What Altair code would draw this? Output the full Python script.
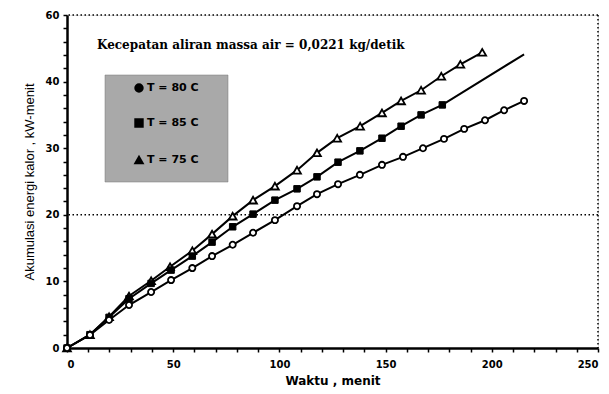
import altair as alt
import pandas as pd

# ---- data ----
tri_t = [0, 10.8, 19.8, 29.2, 39.6, 48.5, 59, 68.3, 78, 87.6, 97.9, 108.3, 117.7, 127.2, 138, 148.3, 157.3, 166.7, 176.2, 185.2, 195.5]
tri_q = [0, 2.0, 4.7, 7.8, 10.1, 12.2, 14.6, 17.1, 19.8, 22.2, 24.3, 26.7, 29.3, 31.5, 33.3, 35.3, 37.1, 38.7, 40.8, 42.6, 44.4]

sq_t = [0, 10.8, 19.8, 29.2, 39.6, 49, 59, 68.3, 78, 87.6, 97.9, 108.3, 117.7, 127.6, 137.9, 148.3, 157.3, 166.7, 176.7]
sq_q = [0, 2.0, 4.6, 7.4, 9.7, 11.7, 13.8, 15.9, 18.2, 20.1, 22.2, 23.9, 25.7, 27.9, 29.6, 31.5, 33.3, 35.0, 36.5]
sq_line_end_t = [215.2]
sq_line_end_q = [44.1]

ci_t = [0, 10.8, 19.8, 29.2, 39.6, 49, 59, 68.3, 78, 87.6, 97.9, 108.3, 117.7, 127.6, 137.9, 148.3, 158.2, 167.6, 177.5, 187, 196.8, 205.8, 215.2]
ci_q = [0, 1.95, 4.2, 6.45, 8.4, 10.2, 12.0, 13.8, 15.5, 17.3, 19.2, 21.3, 23.1, 24.6, 26.0, 27.5, 28.7, 30.0, 31.4, 32.9, 34.2, 35.7, 37.1]

ref_lines_q = [20, 50]
ref_lines_t = [250]

legend_labels = ["T = 80 C", "T = 85 C", "T = 75 C"]
title_text = "Kecepatan aliran massa  air = 0,0221 kg/detik"
x_title = "Waktu , menit"
y_title = "Akumulasi energi kalor , kW-menit"

# ---- tables ----
df_tri = pd.DataFrame({"t": tri_t, "q": tri_q})
df_sq = pd.DataFrame({"t": sq_t, "q": sq_q})
df_sq_line = pd.DataFrame({"t": sq_t + sq_line_end_t, "q": sq_q + sq_line_end_q})
df_ci = pd.DataFrame({"t": ci_t, "q": ci_q})

xs = alt.Scale(domain=[0, 250], nice=False)
ys = alt.Scale(domain=[0, 50], nice=False)

common_axis = dict(
    grid=False, domainColor="black", domainWidth=2.5, tickColor="black",
    tickWidth=1.5, tickSize=4, labelFont="DejaVu Sans", labelFontWeight="bold",
    labelFontSize=10, labelColor="black", titleColor="black",
)
xaxis = alt.Axis(
    values=list(range(0, 251, 10)),
    labelExpr="datum.value % 50 == 0 ? datum.label : ''",
    title=x_title, titleFont="DejaVu Sans", titleFontWeight="bold", titleFontSize=12,
    labelPadding=7, titlePadding=6, **common_axis,
)
yaxis = alt.Axis(
    values=list(range(0, 51, 2)),
    labelExpr="datum.value % 10 == 0 ? (datum.value == 50 ? '60' : datum.label) : ''",
    title=y_title, titleFont="Liberation Sans", titleFontWeight="normal", titleFontSize=13,
    labelPadding=4, titlePadding=9, **common_axis,
)

X = alt.X("t:Q", scale=xs, axis=xaxis)
Y = alt.Y("q:Q", scale=ys, axis=yaxis)

dotted = dict(color="black", strokeWidth=1.5, strokeDash=[1.5, 2.5])
hrules = alt.Chart(pd.DataFrame({"q": ref_lines_q})).mark_rule(**dotted).encode(y=Y)
vrules = alt.Chart(pd.DataFrame({"t": ref_lines_t})).mark_rule(**dotted).encode(x=X)

line_style = dict(color="black", strokeWidth=2)
l_tri = alt.Chart(df_tri).mark_line(**line_style).encode(x=X, y=Y)
l_sq = alt.Chart(df_sq_line).mark_line(**line_style).encode(x=X, y=Y)
l_ci = alt.Chart(df_ci).mark_line(**line_style).encode(x=X, y=Y)

p_tri = alt.Chart(df_tri).mark_point(shape="triangle-up", size=60, filled=True, fill="white",
                                     stroke="black", strokeWidth=1.8, opacity=1).encode(x=X, y=Y)
p_sq = alt.Chart(df_sq).mark_point(shape="square", size=42, filled=True, fill="black",
                                   stroke="black", strokeWidth=1, opacity=1).encode(x=X, y=Y)
p_ci = alt.Chart(df_ci).mark_point(shape="circle", size=38, filled=True, fill="white",
                                   stroke="black", strokeWidth=1.8, opacity=1).encode(x=X, y=Y)

# ---- legend box (annotation) ----
one = pd.DataFrame({"a": [0]})
box = alt.Chart(one).mark_rect(fill="#a9a9a9", stroke="#777777", strokeWidth=0.5).encode(
    x=alt.value(38), x2=alt.value(161), y=alt.value(60), y2=alt.value(167))

leg_rows_y = [73, 108, 145]
leg_shapes = ["circle", "square", "triangle-up"]
legend_layers = []
for lbl, shp, yy in zip(legend_labels, leg_shapes, leg_rows_y):
    legend_layers.append(
        alt.Chart(one).mark_point(shape=shp, size=55, filled=True, fill="black", stroke="black", opacity=1)
        .encode(x=alt.value(72), y=alt.value(yy)))
    legend_layers.append(
        alt.Chart(one).mark_text(text=lbl, align="left", baseline="middle", font="DejaVu Sans",
                                 fontWeight="bold", fontSize=11, color="black")
        .encode(x=alt.value(80), y=alt.value(yy)))

title = alt.Chart(one).mark_text(text=title_text, align="left", baseline="middle",
                                 font="DejaVu Serif", fontWeight="bold", fontSize=12,
                                 color="black").encode(x=alt.value(30), y=alt.value(30))

chart = alt.layer(
    hrules, vrules, box, *legend_layers, title,
    l_tri, l_sq, l_ci, p_tri, p_sq, p_ci,
).properties(
    width=531, height=333,
    autosize=alt.AutoSizeParams(type="none"),
    padding={"left": 67, "top": 15, "right": 11, "bottom": 46},
).configure_view(stroke=None).configure(background="white")

chart.save("out.html", embed_options={"renderer": "svg", "actions": False})
